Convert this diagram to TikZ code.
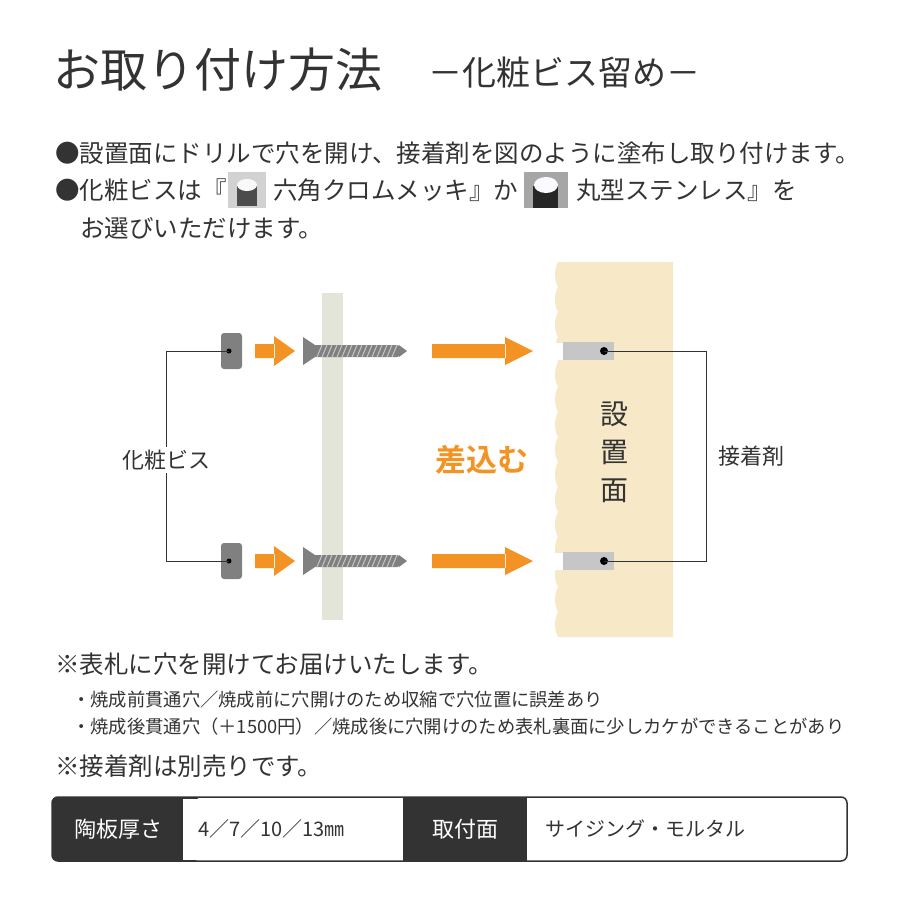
\documentclass[tikz,border=0pt]{standalone}
\usepackage{fontspec}
\setmainfont{Noto Sans CJK JP}
\newfontfamily\jpb{Noto Sans CJK JP Bold}
\usetikzlibrary{calc}
\definecolor{ink}{HTML}{333333}
\definecolor{orng}{HTML}{F39323}
\definecolor{wallc}{HTML}{F7E9C8}
\definecolor{postc}{HTML}{E4E5D9}
\definecolor{scr}{HTML}{808080}
\definecolor{dark}{HTML}{333333}
\tikzset{x=1pt,y=-1pt,
 txt/.style={anchor=west,inner sep=0pt,text=ink,font=\fontsize{24.5}{26}\selectfont},
 small/.style={anchor=west,inner sep=0pt,text=ink,font=\fontsize{18.3}{20}\selectfont},
 lead/.style={draw=ink,line width=0.8pt},
 arr/.style={fill=orng,draw=none}}
\newcommand{\smarr}[2]{\fill[orng] (#1,#2-7) rectangle (#1+20,#2+7) (#1+19,#2-15)--(#1+40,#2)--(#1+19,#2+15)--cycle;}
\newcommand{\bgarr}[2]{\fill[orng] (#1,#2-7) rectangle (#1+74,#2+7) (#1+73,#2-14)--(#1+101,#2)--(#1+73,#2+14)--cycle;}
\newcommand{\myscrew}[2]{%
 \fill[scr] (#1,#2-14)--(#1+12,#2-6)--(#1+12,#2+6)--(#1,#2+14)--cycle;
 \fill[scr,rounded corners=3pt] (#1+10,#2-6) rectangle (#1+97,#2+6);
 \fill[scr] (#1+96,#2-6)--(#1+104,#2)--(#1+96,#2+6)--cycle;
 \foreach \k in {0,...,15}{\draw[white!55!scr,line width=1pt] (#1+14+5*\k,#2+6)--(#1+19+5*\k,#2-6);}}
\newcommand{\mycap}[2]{\fill[scr,rounded corners=3pt] (#1,#2-18) rectangle (#1+21,#2+18); \fill[black] (#1+8,#2) circle (2.5);}
\begin{document}
\begin{tikzpicture}
\useasboundingbox (0,0) rectangle (900,900);
\fill[white] (0,0) rectangle (900,900);
% title
\node[anchor=west,inner sep=0pt,text=ink,font=\fontsize{47}{50}\selectfont] (title) at (53,70) {お取り付け方法};
\node[anchor=west,inner sep=0pt,text=ink,font=\fontsize{34}{36}\selectfont] (sub) at (428,73) {－化粧ビス留め－};
% intro
\node[txt] (l1) at (55,153) {●設置面にドリルで穴を開け、接着剤を図のように塗布し取り付けます。};
\node[txt] (l2a) at (55,190) {●化粧ビスは『};
\fill[gray!35] (228,172) rectangle (266,208);
\fill[black!70] (237,186) rectangle (257,206);
\fill[white!95!gray] (247,185) ellipse (10 and 6);
\node[txt] (l2b) at (273,190) {六角クロムメッキ』か『};
\fill[gray!70] (524,172) rectangle (568,208);
\fill[black!85] (533,186) rectangle (558,208);
\fill[white!85!blue!10] (546,185) ellipse (12 and 8);
\node[txt] (l2c) at (576,190) {丸型ステンレス』を};
\node[txt] (l3) at (80,228) {お選びいただけます。};
% wall
\fill[wallc] (558,262) -- (673,262) -- (673,637) -- (558,637)
 \foreach \yy in {612,587,...,262}{ .. controls (554,\yy+18) and (554,\yy+7) .. (558,\yy)} -- cycle;
\fill[white] (552,343) rectangle (563,360) (552,553) rectangle (563,570);
\fill[gray!45] (563,342) rectangle (614,360);
\fill[gray!45] (563,552) rectangle (614,570);
% post
\fill[postc] (322,293) rectangle (343,620);
% rows
\foreach \yy in {351,561}{
 \mycap{221}{\yy}
 \smarr{255}{\yy}
 \myscrew{303}{\yy}
 \bgarr{432}{\yy}
 \fill[black] (604,\yy) circle (4);
}
\coordinate (c1) at (229,351); \coordinate (c2) at (229,561);
\coordinate (g1) at (604,351); \coordinate (g2) at (604,561);
\draw[lead] (c1) -| (166,561) -- (c2);
\draw[lead] (g1) -| (706,561) -- (g2);
\node[fill=white,inner sep=3pt,text=ink,font=\fontsize{22}{24}\selectfont] (vis) at (166,460) {化粧ビス};
\node[fill=white,inner sep=3pt,text=ink,font=\fontsize{22}{24}\selectfont] (glue) at (751,456) {接着剤};
\node[text=orng,font=\jpb\fontsize{31}{32}\selectfont] (ins) at (482,460) {差込む};
\node[text=ink,font=\fontsize{28}{38}\selectfont,align=center] (men) at (614,452) {設\\置\\面};
% notes
\node[txt] (n1) at (55,664) {※表札に穴を開けてお届けいたします。};
\node[small] (n2) at (72,700) {・焼成前貫通穴／焼成前に穴開けのため収縮で穴位置に誤差あり};
\node[small] (n3) at (72,727) {・焼成後貫通穴（＋1500円）／焼成後に穴開けのため表札裏面に少しカケができることがあり};
\node[txt] (n4) at (55,766) {※接着剤は別売りです。};
% table
\fill[dark,rounded corners=6pt] (52,797) rectangle (200,861);
\fill[dark] (403,797) rectangle (527,861);
\fill[white] (183,798.5) rectangle (403,859.5);
\draw[dark,line width=1.5pt,rounded corners=6pt] (52,797) rectangle (847,861);
\node[text=white,font=\fontsize{22}{24}\selectfont] (h1) at (118,829) {陶板厚さ};
\node[text=white,font=\fontsize{22}{24}\selectfont] (h2) at (465,829) {取付面};
\node[small,font=\fontsize{20}{22}\selectfont] (v1) at (198,829) {4／7／10／13㎜};
\node[small,font=\fontsize{20}{22}\selectfont] (v2) at (545,829) {サイジング・モルタル};
\end{tikzpicture}
\end{document}
